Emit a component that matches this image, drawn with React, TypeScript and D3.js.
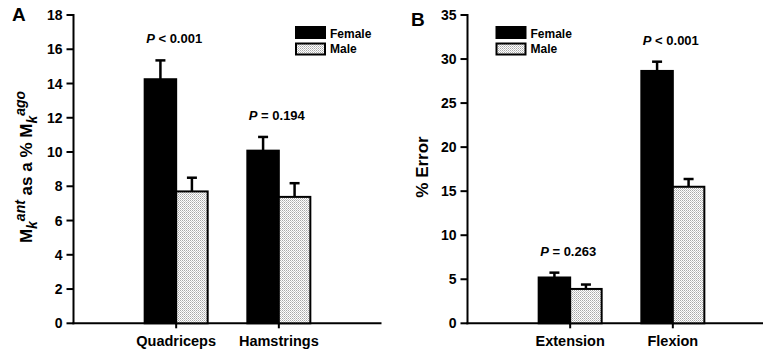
import React from "react";
import * as d3 from "d3";

// ---------- data ----------
const categoriesA = ["Quadriceps", "Hamstrings"];
const femaleA = [14.25, 10.08];
const femaleErrA = [1.1, 0.8];
const maleA = [7.7, 7.38];
const maleErrA = [0.8, 0.8];
const pLabelsA = ["< 0.001", "= 0.194"];
const ticksA = [0, 2, 4, 6, 8, 10, 12, 14, 16, 18];

const categoriesB = ["Extension", "Flexion"];
const femaleB = [5.2, 28.65];
const femaleErrB = [0.55, 1.05];
const maleB = [3.9, 15.5];
const maleErrB = [0.5, 0.88];
const pLabelsB = ["= 0.263", "< 0.001"];
const ticksB = [0, 5, 10, 15, 20, 25, 30, 35];

const seriesNames = ["Female", "Male"];

const FONT = "'Liberation Sans', Arial, Helvetica, sans-serif";

type PanelProps = {
  ox: number;
  letter: string;
  letterX: number;
  letterY: number;
  categories: string[];
  female: number[];
  femaleErr: number[];
  male: number[];
  maleErr: number[];
  pLabels: string[];
  ticks: number[];
  yMax: number;
  legendX: number;
  yLabel: React.ReactNode;
  yLabelX: number;
};

function Panel(p: PanelProps) {
  const top = 15;
  const bottom = 323.3;
  const axisLen = 308;
  const y = d3.scaleLinear().domain([0, p.yMax]).range([bottom, top]);
  const x = d3.scaleLinear().domain([0, p.categories.length + 1]).range([p.ox, p.ox + axisLen]);
  const bw = 31.5;
  const capW = 10;

  const bars: React.ReactNode[] = [];
  p.categories.forEach((c, i) => {
    const cx = x(i + 1);
    const fTop = y(p.female[i]);
    const mTop = y(p.male[i]);
    const fErr = y(p.female[i] + p.femaleErr[i]);
    const mErr = y(p.male[i] + p.maleErr[i]);
    const fx = cx - bw;
    const mx = cx;
    bars.push(
      <g key={c}>
        <line x1={fx + bw / 2} x2={fx + bw / 2} y1={fTop} y2={fErr} stroke="#000" strokeWidth={2.5} />
        <line x1={fx + bw / 2 - capW / 2} x2={fx + bw / 2 + capW / 2} y1={fErr} y2={fErr} stroke="#000" strokeWidth={2.5} />
        <line x1={mx + bw / 2} x2={mx + bw / 2} y1={mTop} y2={mErr} stroke="#000" strokeWidth={2.5} />
        <line x1={mx + bw / 2 - capW / 2} x2={mx + bw / 2 + capW / 2} y1={mErr} y2={mErr} stroke="#000" strokeWidth={2.5} />
        <rect x={fx} y={fTop} width={bw} height={bottom - fTop} fill="#000" stroke="#000" strokeWidth={2} />
        <rect x={mx} y={mTop} width={bw} height={bottom - mTop} fill="url(#stipple)" stroke="#000" strokeWidth={2} />
        <text
          x={cx - 2}
          y={Math.min(fErr, mErr) - 17}
          textAnchor="middle"
          fontSize={13}
          fontWeight="bold"
          fontFamily={FONT}
        >
          <tspan fontStyle="italic">P</tspan>
          {" " + p.pLabels[i]}
        </text>
        <line x1={cx} x2={cx} y1={bottom} y2={bottom + 5} stroke="#000" strokeWidth={2} />
        <text x={cx} y={bottom + 23} textAnchor="middle" fontSize={14.5} fontWeight="bold" fontFamily={FONT}>
          {c}
        </text>
      </g>
    );
  });

  return (
    <g>
      <text x={p.letterX} y={p.letterY} fontSize={19} fontWeight="bold" fontFamily={FONT}>
        {p.letter}
      </text>
      {/* y axis */}
      <line x1={p.ox} x2={p.ox} y1={top - 1} y2={bottom + 1} stroke="#000" strokeWidth={2} />
      {p.ticks.map((t) => (
        <g key={t}>
          <line x1={p.ox - 7} x2={p.ox} y1={y(t)} y2={y(t)} stroke="#000" strokeWidth={2} />
          <text
            x={p.ox - 11}
            y={y(t)}
            dy="0.36em"
            textAnchor="end"
            fontSize={14}
            fontWeight="bold"
            fontFamily={FONT}
          >
            {t}
          </text>
        </g>
      ))}
      {/* x axis */}
      <line x1={p.ox - 1} x2={p.ox + axisLen} y1={bottom} y2={bottom} stroke="#000" strokeWidth={2} />
      {bars}
      {/* legend */}
      {seriesNames.map((s, i) => (
        <g key={s}>
          <rect
            x={p.legendX}
            y={27 + i * 16.5}
            width={29}
            height={11}
            fill={i === 0 ? "#000" : "url(#stipple)"}
            stroke="#000"
            strokeWidth={2}
          />
          <text x={p.legendX + 34} y={37.5 + i * 15.5} fontSize={12} fontWeight="bold" fontFamily={FONT}>
            {s}
          </text>
        </g>
      ))}
      {/* y label */}
      <text
        transform={`translate(${p.yLabelX},167) rotate(-90)`}
        textAnchor="middle"
        fontSize={17}
        fontWeight="bold"
        fontFamily={FONT}
      >
        {p.yLabel}
      </text>
    </g>
  );
}

export default function App() {
  const labelA = (
    <>
      <tspan>M</tspan>
      <tspan fontSize={14} fontStyle="italic" dy={5}>k</tspan>
      <tspan fontSize={14} fontStyle="italic" dy={-12}>ant</tspan>
      <tspan dy={7}> as a % M</tspan>
      <tspan fontSize={14} fontStyle="italic" dy={5}>k</tspan>
      <tspan fontSize={14} fontStyle="italic" dy={-12}>ago</tspan>
    </>
  );
  return (
    <svg
      width={763}
      height={354}
      style={{ position: "absolute", left: 0, top: 0, background: "#fff" }}
    >
      <defs>
        <pattern id="stipple" width={2} height={2} patternUnits="userSpaceOnUse">
          <rect width={2} height={2} fill="#fff" />
          <rect width={1} height={1} x={0} y={0} fill="#a8a8a8" />
          <rect width={1} height={1} x={1} y={1} fill="#c8c8c8" />
        </pattern>
      </defs>
      <Panel
        ox={73.5}
        letter="A"
        letterX={12}
        letterY={21}
        categories={categoriesA}
        female={femaleA}
        femaleErr={femaleErrA}
        male={maleA}
        maleErr={maleErrA}
        pLabels={pLabelsA}
        ticks={ticksA}
        yMax={18}
        legendX={296}
        yLabel={labelA}
        yLabelX={32}
      />
      <Panel
        ox={467.5}
        letter="B"
        letterX={411}
        letterY={26}
        categories={categoriesB}
        female={femaleB}
        femaleErr={femaleErrB}
        male={maleB}
        maleErr={maleErrB}
        pLabels={pLabelsB}
        ticks={ticksB}
        yMax={35}
        legendX={496.5}
        yLabel={"% Error"}
        yLabelX={428}
      />
    </svg>
  );
}
